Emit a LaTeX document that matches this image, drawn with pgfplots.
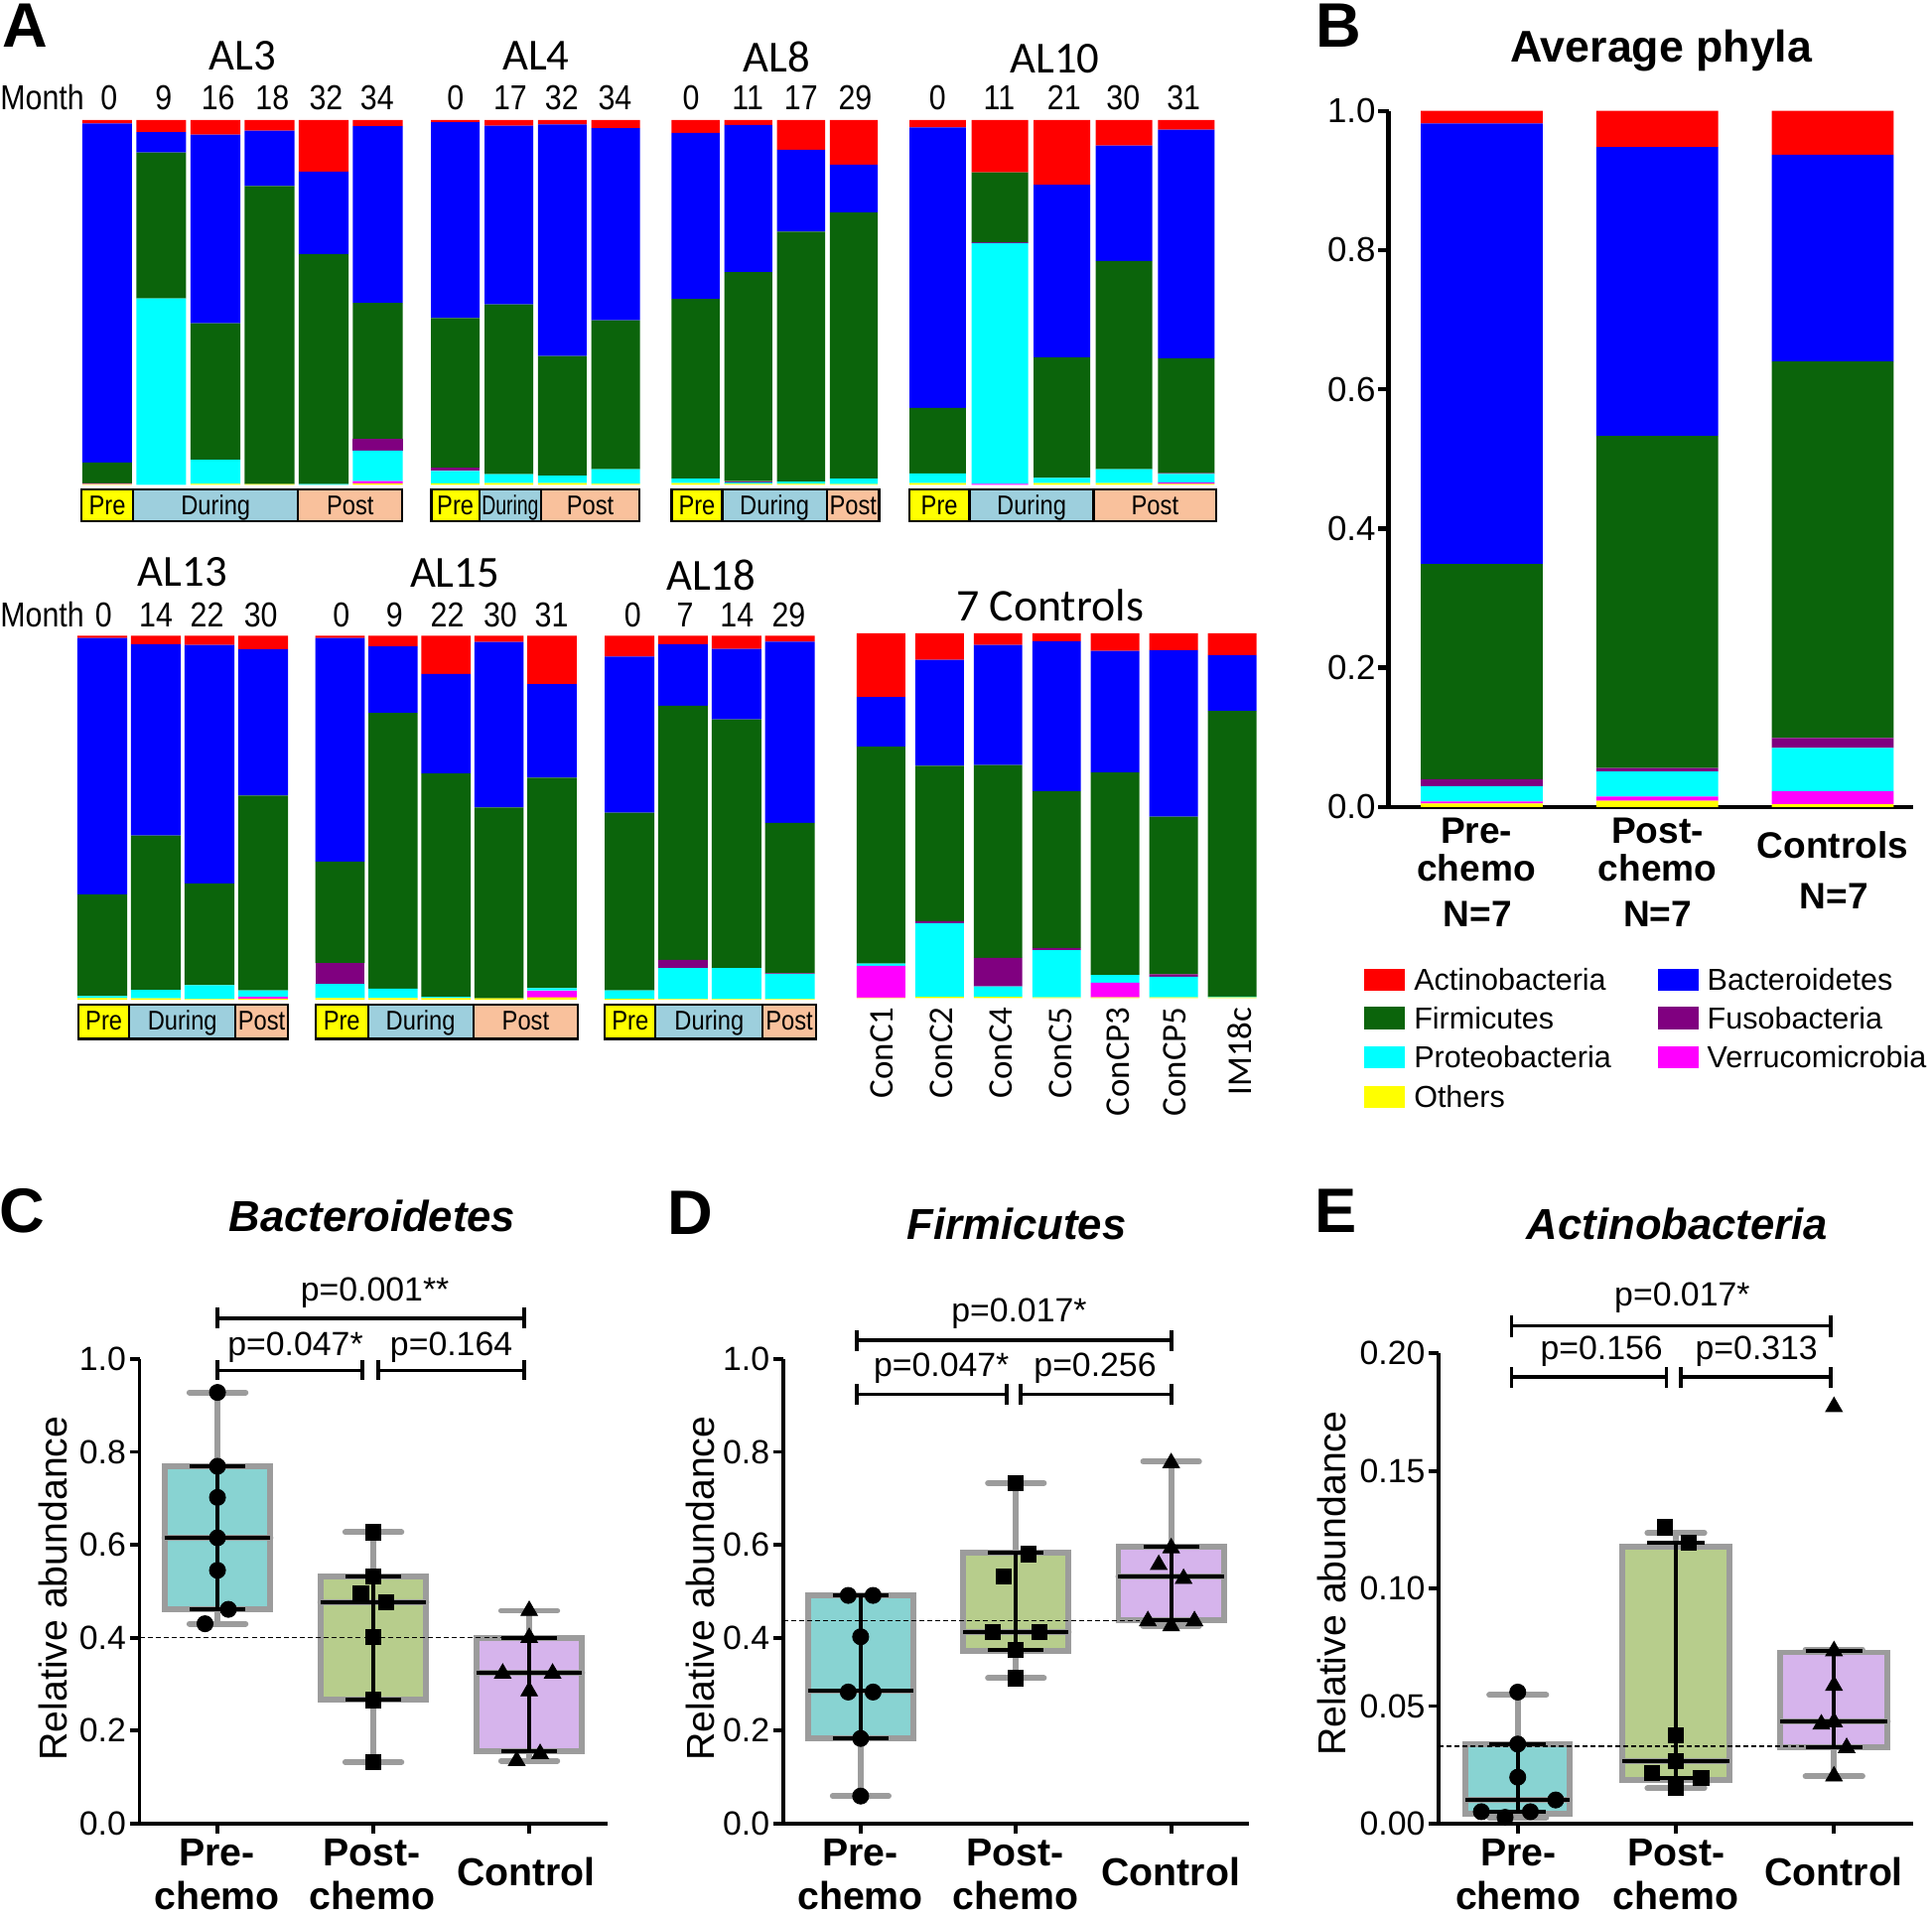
\documentclass[border=0pt]{standalone}
\usepackage{pgfplots}
\pgfplotsset{compat=1.18}
\usepackage{pgfplotstable}
\usepgfplotslibrary{statistics}
\usepackage{fontspec}
\setmainfont{Liberation Sans}
\newfontfamily\narrow[FakeStretch=0.87]{Liberation Sans}
\newfontfamily\calib{Carlito}
\newcommand\fs[1]{\fontsize{#1}{#1}\selectfont}

\definecolor{cAct}{HTML}{FF0000}
\definecolor{cBac}{HTML}{0000FF}
\definecolor{cFir}{HTML}{0B640B}
\definecolor{cPro}{HTML}{00FFFF}
\definecolor{cFus}{HTML}{800080}
\definecolor{cVer}{HTML}{FF00FF}
\definecolor{cOth}{HTML}{FFFF00}
\definecolor{cPreY}{HTML}{FFFF00}
\definecolor{cDur}{HTML}{9DCFDD}
\definecolor{cPost}{HTML}{F9C19C}
\definecolor{bxPre}{HTML}{88D3D2}
\definecolor{bxPost}{HTML}{B7CD8C}
\definecolor{bxCon}{HTML}{D6B4EC}
\definecolor{bxGray}{HTML}{9C9C9C}

% relative abundances, stacked bottom to top
\pgfplotstableread{
x oth ver pro fus fir bac act
0 0.002 0.002 0 0 0.057 0.930 0.009
1 0 0 0.511 0 0.400 0.056 0.033
2 0.003 0 0.066 0 0.374 0.517 0.040
3 0.002 0 0 0 0.817 0.152 0.029
4 0 0 0.002 0 0.631 0.226 0.141
5 0.004 0.006 0.084 0.032 0.373 0.484 0.017
}\tALthree
\pgfplotstableread{
x oth ver pro fus fir bac act
0 0.004 0 0.034 0.009 0.410 0.537 0.006
1 0.005 0 0.024 0 0.466 0.490 0.015
2 0.005 0 0.020 0 0.328 0.635 0.012
3 0.003 0 0.040 0 0.408 0.527 0.022
}\tALfour
\pgfplotstableread{
x oth ver pro fus fir bac act
0 0.005 0 0.012 0 0.493 0.455 0.035
1 0.003 0 0.004 0.003 0.573 0.404 0.013
2 0.003 0 0.006 0 0.685 0.225 0.081
3 0.002 0 0.015 0 0.730 0.131 0.122
}\tALeight
\pgfplotstableread{
x oth ver pro fus fir bac act
0 0.005 0 0.026 0 0.180 0.769 0.020
1 0 0.003 0.660 0.002 0.192 0 0.143
2 0.005 0 0.014 0 0.331 0.473 0.177
3 0.005 0 0.038 0 0.571 0.316 0.070
4 0.003 0.003 0.024 0.002 0.315 0.627 0.026
}\tALten
\pgfplotstableread{
x oth ver pro fus fir bac act
0 0.005 0 0.005 0 0.280 0.704 0.006
1 0.004 0 0.023 0 0.424 0.526 0.023
2 0.002 0 0.038 0 0.280 0.655 0.025
3 0.003 0.005 0.018 0 0.535 0.402 0.037
}\tALthirteen
\pgfplotstableread{
x oth ver pro fus fir bac act
0 0.005 0 0.039 0.057 0.279 0.614 0.006
1 0.005 0 0.026 0 0.757 0.183 0.029
2 0.005 0 0.003 0 0.614 0.273 0.105
3 0.004 0 0 0 0.524 0.455 0.017
4 0.007 0.019 0.006 0 0.578 0.257 0.133
}\tALfifteen
\pgfplotstableread{
x oth ver pro fus fir bac act
0 0.003 0 0.023 0 0.488 0.429 0.057
1 0.002 0 0.085 0.023 0.698 0.169 0.023
2 0.002 0 0.085 0 0.683 0.194 0.036
3 0.002 0 0.069 0.002 0.413 0.498 0.016
}\tALeighteen
\pgfplotstableread{
x oth ver pro fus fir bac act
0 0.001 0.087 0.006 0 0.595 0.136 0.175
1 0.003 0 0.202 0.006 0.426 0.290 0.073
2 0.003 0 0.029 0.078 0.529 0.329 0.032
3 0.002 0 0.129 0.006 0.430 0.411 0.022
4 0.002 0.040 0.021 0 0.555 0.334 0.048
5 0.002 0 0.056 0.007 0.432 0.457 0.046
6 0.002 0 0.002 0 0.783 0.153 0.060
}\tCon
\pgfplotstableread{
x oth ver pro fus fir bac act
1 0.005 0.003 0.022 0.010 0.309 0.633 0.018
2 0.009 0.006 0.036 0.005 0.477 0.415 0.052
3 0.004 0.019 0.062 0.014 0.541 0.297 0.063
}\tAvg

\newcommand\phyla[1]{%
  \addplot[fill=cOth,draw=none] table[x=x,y=oth]{#1};
  \addplot[fill=cVer,draw=none] table[x=x,y=ver]{#1};
  \addplot[fill=cPro,draw=none] table[x=x,y=pro]{#1};
  \addplot[fill=cFus,draw=none] table[x=x,y=fus]{#1};
  \addplot[fill=cFir,draw=none] table[x=x,y=fir]{#1};
  \addplot[fill=cBac,draw=none] table[x=x,y=bac]{#1};
  \addplot[fill=cAct,draw=none] table[x=x,y=act]{#1};}

\tikzset{brk/.style={line width=1.7pt}}
\pgfplotsset{
  phy/.style={ybar stacked, scale only axis, hide axis, anchor=south west,
    ymin=0, ymax=1, xmin=-0.5, clip=false},
  bx/.style={scale only axis, anchor=south west, xmin=0.5, xmax=3.5, clip=false,
    boxplot/draw direction=y,
    axis x line*=bottom, axis y line*=left,
    axis line style={line width=1.7pt,-}, tick style={line width=1.7pt,black},
    tick align=outside, major tick length=0.16cm, tick pos=left,
    xtick={1,2,3}, xticklabels={,,},
    tick label style={font=\fs{15.5}, inner sep=1.5pt},
    /pgf/number format/assume math mode=true},
  gbox/.style={draw=bxGray, line width=2.7pt, line cap=round},
  blk/.style={black, line width=1.8pt, unbounded coords=jump, forget plot},
  dsh/.style={black, line width=0.7pt, dash pattern=on 2.3pt off 1.4pt},
  mC/.style={only marks, mark=*, mark size=3.7pt, black},
  mS/.style={only marks, mark=square*, mark size=3.5pt, black},
  mT/.style={only marks, mark=triangle*, mark size=4.4pt, black},
}

\newcommand\phase[7]{%
  \draw[line width=1pt, fill=cPreY] (#1,#5) rectangle (#2,#6);
  \draw[line width=1pt, fill=cDur] (#2,#5) rectangle (#3,#6);
  \draw[line width=1pt, fill=cPost] (#3,#5) rectangle (#4,#6);
  \node[font=\narrow\fs{12.5}, anchor=base, inner sep=0] at ({(#1+#2)/2},{#5+20.5}) {Pre};
  \node[font=\narrow\fs{12.5}, anchor=base, inner sep=0] at ({(#2+#3)/2},{#5+20.5}) {\scalebox{#7}[1]{During}};
  \node[font=\narrow\fs{12.5}, anchor=base, inner sep=0] at ({(#3+#4)/2},{#5+20.5}) {Post};}

\begin{document}
\begin{tikzpicture}
\useasboundingbox (0,0) rectangle (31.36cm,-31.10cm);

% ---- panel A ----
\begin{axis}[phy, at={(1.300cm,-7.870cm)}, width=5.270cm, height=5.920cm, xmax=5.5, bar width=0.92]
\phyla{\tALthree}
\end{axis}
\begin{axis}[phy, at={(6.958cm,-7.870cm)}, width=3.470cm, height=5.920cm, xmax=3.5, bar width=0.91]
\phyla{\tALfour}
\end{axis}
\begin{axis}[phy, at={(10.862cm,-7.870cm)}, width=3.426cm, height=5.920cm, xmax=3.5, bar width=0.91]
\phyla{\tALeight}
\end{axis}
\begin{axis}[phy, at={(14.716cm,-7.870cm)}, width=5.042cm, height=5.920cm, xmax=4.5, bar width=0.91]
\phyla{\tALten}
\end{axis}
\begin{axis}[phy, at={(1.225cm,-16.230cm)}, width=3.480cm, height=5.910cm, xmax=3.5, bar width=0.93]
\phyla{\tALthirteen}
\end{axis}
\begin{axis}[phy, at={(5.090cm,-16.230cm)}, width=4.300cm, height=5.910cm, xmax=4.5, bar width=0.93]
\phyla{\tALfifteen}
\end{axis}
\begin{axis}[phy, at={(9.786cm,-16.230cm)}, width=3.468cm, height=5.910cm, xmax=3.5, bar width=0.93]
\phyla{\tALeighteen}
\end{axis}
\begin{axis}[phy, at={(13.825cm,-16.200cm)}, width=6.650cm, height=5.920cm, xmax=6.5, bar width=0.83]
\phyla{\tCon}
\end{axis}

% ---- panel B ----
\begin{axis}[ybar stacked, scale only axis, anchor=south west, at={(22.54cm,-13.10cm)},
  width=8.51cm, height=11.30cm, xmin=0.469, xmax=3.457, ymin=0, ymax=1, bar width=0.695,
  axis x line*=bottom, axis y line*=left, axis line style={line width=2.2pt,-},
  xtick=\empty, ytick={0,0.2,0.4,0.6,0.8,1}, tick align=outside, tick pos=left,
  major tick length=0.17cm, tick style={line width=2pt,black},
  yticklabel style={/pgf/number format/.cd,fixed,fixed zerofill,precision=1},
  tick label style={font=\fs{16}, inner sep=1pt},
  /pgf/number format/assume math mode=true]
\phyla{\tAvg}
\end{axis}

% ---- panel C ----
\begin{axis}[bx, at={(2.265cm,-29.60cm)}, width=7.59cm, height=7.54cm, ymin=0, ymax=1,
  ytick={0,0.2,0.4,0.6,0.8,1},
  yticklabel style={/pgf/number format/.cd,fixed,fixed zerofill,precision=1}]
\addplot[gbox, fill=bxPre, boxplot prepared={lower whisker=0.430, lower quartile=0.461, median=0.615,
  upper quartile=0.769, upper whisker=0.928, draw position=1, box extend=0.68, whisker extend=0.36}] coordinates {};
\addplot[gbox, fill=bxPost, boxplot prepared={lower whisker=0.132, lower quartile=0.266, median=0.476,
  upper quartile=0.532, upper whisker=0.627, draw position=2, box extend=0.68, whisker extend=0.36}] coordinates {};
\addplot[gbox, fill=bxCon, boxplot prepared={lower whisker=0.135, lower quartile=0.155, median=0.325,
  upper quartile=0.400, upper whisker=0.458, draw position=3, box extend=0.68, whisker extend=0.36}] coordinates {};
\addplot[dsh] coordinates {(0.5,0.400) (3.02,0.400)};
\addplot[blk] coordinates {(0.66,0.615) (1.34,0.615) (1,nan) (1,0.461) (1,0.769) (1,nan) (0.82,0.461) (1.18,0.461) (1,nan) (0.82,0.769) (1.18,0.769)};
\addplot[blk] coordinates {(1.66,0.476) (2.34,0.476) (2,nan) (2,0.266) (2,0.532) (2,nan) (1.82,0.266) (2.18,0.266) (2,nan) (1.82,0.532) (2.18,0.532)};
\addplot[blk] coordinates {(2.66,0.325) (3.34,0.325) (3,nan) (3,0.155) (3,0.400) (3,nan) (2.82,0.155) (3.18,0.155) (3,nan) (2.82,0.400) (3.18,0.400)};
\addplot[mC] coordinates {(1,0.928) (1,0.769) (1,0.702) (1,0.615) (1,0.545) (1.07,0.461) (0.92,0.430)};
\addplot[mS] coordinates {(2,0.627) (2,0.532) (1.92,0.496) (2.08,0.476) (2,0.402) (2,0.266) (2,0.132)};
\addplot[mT] coordinates {(3,0.458) (3,0.400) (2.83,0.323) (3.15,0.323) (3,0.285) (3.07,0.150) (2.92,0.135)};
\draw[brk] (axis cs:1,1.066) -- (axis cs:1,1.110) (axis cs:1,1.088) -- (axis cs:2.97,1.088) (axis cs:2.97,1.066) -- (axis cs:2.97,1.110);
\draw[brk] (axis cs:1,0.954) -- (axis cs:1,0.997) (axis cs:1,0.975) -- (axis cs:1.93,0.975) (axis cs:1.93,0.954) -- (axis cs:1.93,0.997);
\draw[brk] (axis cs:2.03,0.954) -- (axis cs:2.03,0.997) (axis cs:2.03,0.975) -- (axis cs:2.97,0.975) (axis cs:2.97,0.954) -- (axis cs:2.97,0.997);
\node[font=\fs{15.5}] at (axis cs:2.01,1.142) {p=0.001**};
\node[font=\fs{15.5}] at (axis cs:1.50,1.025) {p=0.047*};
\node[font=\fs{15.5}] at (axis cs:2.50,1.025) {p=0.164};
\end{axis}

% ---- panel D ----
\begin{axis}[bx, at={(12.71cm,-29.60cm)}, width=7.56cm, height=7.54cm, ymin=0, ymax=1,
  ytick={0,0.2,0.4,0.6,0.8,1},
  yticklabel style={/pgf/number format/.cd,fixed,fixed zerofill,precision=1}]
\addplot[gbox, fill=bxPre, boxplot prepared={lower whisker=0.059, lower quartile=0.183, median=0.285,
  upper quartile=0.491, upper whisker=0.491, draw position=1, box extend=0.68, whisker extend=0.36}] coordinates {};
\addplot[gbox, fill=bxPost, boxplot prepared={lower whisker=0.313, lower quartile=0.371, median=0.413,
  upper quartile=0.583, upper whisker=0.733, draw position=2, box extend=0.68, whisker extend=0.36}] coordinates {};
\addplot[gbox, fill=bxCon, boxplot prepared={lower whisker=0.425, lower quartile=0.437, median=0.532,
  upper quartile=0.596, upper whisker=0.779, draw position=3, box extend=0.68, whisker extend=0.36}] coordinates {};
\addplot[dsh] coordinates {(0.5,0.437) (2.80,0.437)};
\addplot[blk] coordinates {(0.66,0.285) (1.34,0.285) (1,nan) (1,0.183) (1,0.491) (1,nan) (0.82,0.183) (1.18,0.183) (1,nan) (0.82,0.491) (1.18,0.491)};
\addplot[blk] coordinates {(1.66,0.413) (2.34,0.413) (2,nan) (2,0.374) (2,0.583) (2,nan) (1.82,0.374) (2.18,0.374) (2,nan) (1.82,0.583) (2.18,0.583)};
\addplot[blk] coordinates {(2.66,0.532) (3.34,0.532) (3,nan) (3,0.437) (3,0.596) (3,nan) (2.82,0.437) (3.18,0.437) (3,nan) (2.82,0.596) (3.18,0.596)};
\addplot[mC] coordinates {(0.92,0.491) (1.08,0.491) (1,0.402) (0.92,0.283) (1.08,0.283) (1,0.183) (1,0.059)};
\addplot[mS] coordinates {(2,0.733) (2.08,0.580) (1.92,0.532) (1.85,0.413) (2.15,0.413) (2,0.374) (2,0.313)};
\addplot[mT] coordinates {(3,0.776) (3,0.593) (2.92,0.557) (3.08,0.527) (2.85,0.436) (3.15,0.436) (3,0.425)};
\draw[brk] (axis cs:0.974,1.017) -- (axis cs:0.974,1.061) (axis cs:0.974,1.041) -- (axis cs:3.0,1.041) (axis cs:3.0,1.017) -- (axis cs:3.0,1.061);
\draw[brk] (axis cs:0.974,0.901) -- (axis cs:0.974,0.946) (axis cs:0.974,0.924) -- (axis cs:1.94,0.924) (axis cs:1.94,0.901) -- (axis cs:1.94,0.946);
\draw[brk] (axis cs:2.03,0.901) -- (axis cs:2.03,0.946) (axis cs:2.03,0.924) -- (axis cs:3.0,0.924) (axis cs:3.0,0.901) -- (axis cs:3.0,0.946);
\node[font=\fs{15.5}] at (axis cs:2.02,1.097) {p=0.017*};
\node[font=\fs{15.5}] at (axis cs:1.52,0.980) {p=0.047*};
\node[font=\fs{15.5}] at (axis cs:2.51,0.980) {p=0.256};
\end{axis}

% ---- panel E ----
\begin{axis}[bx, at={(23.352cm,-29.60cm)}, width=7.70cm, height=7.63cm, ymin=0, ymax=0.2,
  ytick={0,0.05,0.1,0.15,0.2},
  yticklabel style={/pgf/number format/.cd,fixed,fixed zerofill,precision=2}]
\addplot[gbox, fill=bxPre, boxplot prepared={lower whisker=0.0026, lower quartile=0.0040, median=0.0101,
  upper quartile=0.0336, upper whisker=0.0547, draw position=1, box extend=0.66, whisker extend=0.36}] coordinates {};
\addplot[gbox, fill=bxPost, boxplot prepared={lower whisker=0.0150, lower quartile=0.0185, median=0.0267,
  upper quartile=0.1176, upper whisker=0.1236, draw position=2, box extend=0.68, whisker extend=0.36}] coordinates {};
\addplot[gbox, fill=bxCon, boxplot prepared={lower whisker=0.0201, lower quartile=0.0326, median=0.0436,
  upper quartile=0.0728, upper whisker=0.0740, draw position=3, box extend=0.68, whisker extend=0.36}] coordinates {};
\addplot[dsh] coordinates {(0.5,0.0328) (2.97,0.0328)};
\addplot[blk] coordinates {(0.67,0.0101) (1.33,0.0101) (1,nan) (1,0.0050) (1,0.0338) (1,nan) (0.82,0.0050) (1.18,0.0050) (1,nan) (0.82,0.0338) (1.18,0.0338)};
\addplot[blk] coordinates {(1.66,0.0267) (2.34,0.0267) (2,nan) (2,0.0195) (2,0.1196) (2,nan) (1.82,0.0195) (2.18,0.0195) (2,nan) (1.82,0.1196) (2.18,0.1196)};
\addplot[blk] coordinates {(2.66,0.0436) (3.34,0.0436) (3,nan) (3,0.0326) (3,0.0734) (3,nan) (2.82,0.0326) (3.18,0.0326) (3,nan) (2.82,0.0734) (3.18,0.0734)};
\addplot[mC] coordinates {(1,0.0559) (1,0.0338) (1,0.0197) (1.24,0.0100) (0.77,0.0050) (1.08,0.0050) (0.92,0.0026)};
\addplot[mS] coordinates {(1.93,0.126) (2.08,0.1196) (2,0.0376) (2,0.0265) (1.85,0.0215) (2.16,0.0195) (2,0.0151)};
\addplot[mT] coordinates {(3,0.1773) (3,0.0734) (3,0.0587) (2.92,0.0422) (3,0.0432) (3.08,0.0322) (3,0.0201)};
\draw[brk] (axis cs:0.961,0.2070) -- (axis cs:0.961,0.2161) (axis cs:0.961,0.2117) -- (axis cs:2.98,0.2117) (axis cs:2.98,0.2070) -- (axis cs:2.98,0.2161);
\draw[brk] (axis cs:0.961,0.1855) -- (axis cs:0.961,0.1944) (axis cs:0.961,0.1900) -- (axis cs:1.94,0.1900) (axis cs:1.94,0.1855) -- (axis cs:1.94,0.1944);
\draw[brk] (axis cs:2.03,0.1855) -- (axis cs:2.03,0.1944) (axis cs:2.03,0.1900) -- (axis cs:2.98,0.1900) (axis cs:2.98,0.1855) -- (axis cs:2.98,0.1944);
\node[font=\fs{15.5}] at (axis cs:2.04,0.2237) {p=0.017*};
\node[font=\fs{15.5}] at (axis cs:1.53,0.2010) {p=0.156};
\node[font=\fs{15.5}] at (axis cs:2.51,0.2010) {p=0.313};
\end{axis}

% ---- texts, in pixels of the reference ----
\begin{scope}[x=0.02cm,y=-0.02cm]
\node[font=\fs{29}\bfseries, anchor=north west, inner sep=0] at (2,3) {A};
\node[font=\fs{29}\bfseries] at (1086,21) {B};
\node[font=\fs{29}\bfseries] at (18,983) {C};
\node[font=\fs{29}\bfseries] at (560,984) {D};
\node[font=\fs{29}\bfseries] at (1084,983) {E};

% panel A titles and months
\node[font=\calib\fs{20.5}] at (197,45) {AL3};
\node[font=\calib\fs{20.5}] at (435,45) {AL4};
\node[font=\calib\fs{20.5}] at (630,46) {AL8};
\node[font=\calib\fs{20.5}] at (856,48) {AL10};
\node[font=\calib\fs{20.5}] at (148,464) {AL13};
\node[font=\calib\fs{20.5}] at (369,465) {AL15};
\node[font=\calib\fs{20.5}] at (577,467) {AL18};
\node[font=\calib\fs{21}] at (852,491) {7 Controls};
\node[font=\narrow\fs{16}, anchor=base west, inner sep=0] at (0,89) {Month};
\node[font=\narrow\fs{16}, anchor=base west, inner sep=0] at (0,508.5) {Month};
\foreach \x/\t in {88.4/0,132.7/9,177/16,221/18,264.6/32,306/34,369.7/0,414/17,455.8/32,499/34,
  560.8/0,606.8/11,650/17,694/29,760.8/0,810.8/11,863.4/21,911.4/30,960.4/31}
  \node[font=\narrow\fs{16}, anchor=base, inner sep=0] at (\x,89) {\t};
\foreach \x/\t in {84/0,126.5/14,168/22,211.6/30,277/0,320/9,363/22,406/30,447.6/31,
  513.4/0,556/7,598/14,640/29}
  \node[font=\narrow\fs{16}, anchor=base, inner sep=0] at (\x,508.5) {\t};

\phase{66}{108}{242}{326.5}{397}{423}{1}
\phase{350}{389}{439}{519}{397}{423}{0.82}
\phase{545}{586}{671}{713.4}{397}{423}{1}
\phase{737.7}{786.7}{887.4}{987}{397}{423}{1}
\phase{63.6}{105}{191}{233.7}{815}{843}{1}
\phase{256}{298.6}{384}{469}{815}{843}{1}
\phase{490.7}{532}{619}{662}{815}{843}{1}

\foreach \x/\t in {715.5/ConC1,764/ConC2,812/ConC4,860.6/ConC5,907/ConCP3,953/ConCP5,1005.7/IM18c}
  \node[font=\calib\fs{16}, rotate=90, anchor=east, inner sep=0] at (\x,817) {\t};

% panel B
\node[font=\bfseries\fs{20.5}] at (1348,41) {Average phyla};
\node[font=\bfseries\fs{17}] at (1198,674) {Pre-};
\node[font=\bfseries\fs{17}] at (1198,704) {chemo};
\node[font=\bfseries\fs{17}] at (1199,742) {N=7};
\node[font=\bfseries\fs{17}] at (1345,674) {Post-};
\node[font=\bfseries\fs{17}] at (1345,704) {chemo};
\node[font=\bfseries\fs{17}] at (1345,742) {N=7};
\node[font=\bfseries\fs{17}] at (1487,686) {Controls};
\node[font=\bfseries\fs{17}] at (1488,727) {N=7};
\foreach \y/\c/\t in {795/cAct/Actinobacteria,826/cFir/Firmicutes,858/cPro/Proteobacteria,890/cOth/Others}{
  \fill[\c] (1107,\y-9) rectangle (1140,\y+9);
  \node[anchor=west, font=\fs{14}, inner sep=0] at (1147,\y) {\t};}
\foreach \y/\c/\t in {795/cBac/Bacteroidetes,826/cFus/Fusobacteria,858/cVer/Verrucomicrobia}{
  \fill[\c] (1345,\y-9) rectangle (1378,\y+9);
  \node[anchor=west, font=\fs{14}, inner sep=0] at (1385,\y) {\t};}

% panels C-E
\node[font=\bfseries\itshape\fs{20}] at (302,987) {Bacteroidetes};
\node[font=\bfseries\itshape\fs{20}] at (825,993) {Firmicutes};
\node[font=\bfseries\itshape\fs{20}] at (1361,993) {Actinobacteria};
\node[font=\fs{18}, rotate=90] at (43,1289) {Relative abundance};
\node[font=\fs{18}, rotate=90] at (568,1289) {Relative abundance};
\node[font=\fs{18}, rotate=90] at (1081,1285) {Relative abundance};
\foreach \x in {176,698,1232}{
  \node[font=\bfseries\fs{18}] at (\x,1503) {Pre-};
  \node[font=\bfseries\fs{18}] at (\x,1538) {chemo};}
\foreach \x in {302,824,1360}{
  \node[font=\bfseries\fs{18}] at (\x,1503) {Post-};
  \node[font=\bfseries\fs{18}] at (\x,1538) {chemo};}
\foreach \x in {427,950,1488}
  \node[font=\bfseries\fs{18}] at (\x,1519) {Control};
\end{scope}
\end{tikzpicture}
\end{document}
